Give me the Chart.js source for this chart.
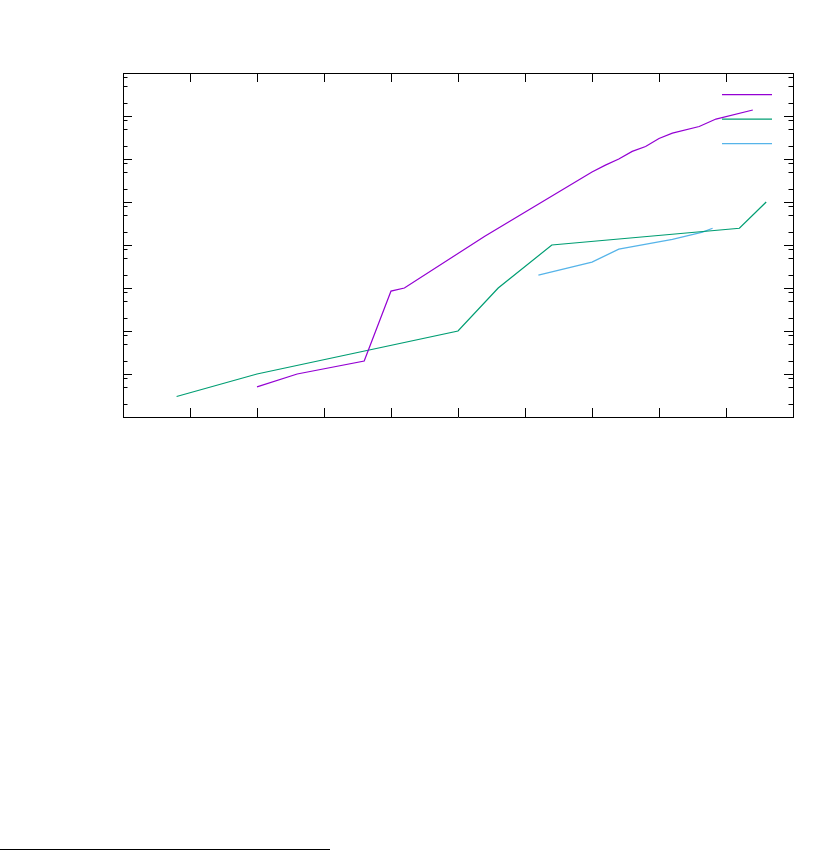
<!DOCTYPE html>
<html>
<head>
<meta charset="utf-8">
<script src="https://cdn.jsdelivr.net/npm/chart.js@4"></script>
<style>
  body { margin: 0; background: #fff; }
  #wrap { position: relative; width: 824px; height: 851px; }
  #rule { position: absolute; left: 0; top: 849px; width: 330px; height: 1px; background: #000; }
</style>
</head>
<body>
<div id="wrap">
  <canvas id="chart" width="824" height="851"></canvas>
  <div id="rule"></div>
</div>
<script>
// Series (x in axis units 0..10, y on a log scale)
const purpleX = [2.0, 2.6, 3.6, 4.0, 4.2, 5.4, 7.0, 7.2, 7.4, 7.6, 7.8, 8.0, 8.2, 8.6, 8.85, 9.4];
const purpleY = [5, 10, 20, 850, 1000, 16000, 5e5, 7.2e5, 1e6, 1.5e6, 1.95e6, 3e6, 4e6, 5.7e6, 8.5e6, 1.38e7];

const greenX = [0.8, 2.0, 5.0, 5.6, 6.4, 9.2, 9.6];
const greenY = [3, 10, 100, 1000, 1e4, 2.45e4, 1e5];

const blueX = [6.2, 7.0, 7.4, 8.2, 8.65, 8.8];
const blueY = [2000, 4000, 8000, 13500, 20000, 24500];

const xTicks = [1, 2, 3, 4, 5, 6, 7, 8, 9];
const decades = [0, 1, 2, 3, 4, 5, 6, 7];
const minorSteps = [2, 5, 8];

const toPoints = (xs, ys) => xs.map((x, i) => ({ x: x, y: ys[i] }));

const logTicks = (scale) => {
  const t = [];
  decades.forEach(d => {
    t.push({ value: Math.pow(10, d), major: true });
    minorSteps.forEach(m => t.push({ value: m * Math.pow(10, d), major: false }));
  });
  t.push({ value: 1e8, major: true });
  scale.ticks = t;
};

const linTicks = (scale) => {
  scale.ticks = xTicks.map(v => ({ value: v, major: true }));
};

// gnuplot style inward tick marks, mirrored on all four sides
const innerTicks = {
  id: 'innerTicks',
  afterDraw(chart) {
    const ctx = chart.ctx;
    const a = chart.chartArea;
    ctx.save();
    ctx.strokeStyle = '#000';
    ctx.lineWidth = 1;
    ctx.beginPath();
    ['x', 'x2'].forEach(id => {
      const s = chart.scales[id];
      s.ticks.forEach(t => {
        const px = Math.round(s.getPixelForValue(t.value)) + 0.5;
        if (id === 'x') { ctx.moveTo(px, a.bottom); ctx.lineTo(px, a.bottom - 9); }
        else { ctx.moveTo(px, a.top); ctx.lineTo(px, a.top + 9); }
      });
    });
    ['y', 'y2'].forEach(id => {
      const s = chart.scales[id];
      s.ticks.forEach(t => {
        if (t.value <= 1 || t.value >= 1e8) return;
        const py = Math.round(s.getPixelForValue(t.value)) + 0.5;
        const len = t.major ? 9 : 4.5;
        if (id === 'y') { ctx.moveTo(a.left, py); ctx.lineTo(a.left + len, py); }
        else { ctx.moveTo(a.right, py); ctx.lineTo(a.right - len, py); }
      });
    });
    ctx.stroke();
    ctx.restore();
  }
};

// key samples in the top right corner (titles are blank in the source)
const keyLines = {
  id: 'keyLines',
  afterDraw(chart) {
    const ctx = chart.ctx;
    const a = chart.chartArea;
    ctx.save();
    chart.data.datasets.forEach((ds, i) => {
      const y = a.top + 21.5 + i * 24.5;
      ctx.strokeStyle = ds.borderColor;
      ctx.lineWidth = ds.borderWidth;
      ctx.beginPath();
      ctx.moveTo(a.right - 71, y);
      ctx.lineTo(a.right - 21, y);
      ctx.stroke();
    });
    ctx.restore();
  }
};

const axisBase = {
  ticks: { display: false },
  grid: { display: true, drawOnChartArea: false, drawTicks: false },
  border: { display: true, color: '#000', width: 1 }
};

new Chart(document.getElementById('chart'), {
  type: 'line',
  data: {
    datasets: [
      { label: '', data: toPoints(purpleX, purpleY), borderColor: '#9400d3', borderWidth: 1.25, pointRadius: 0, tension: 0 },
      { label: '', data: toPoints(greenX, greenY), borderColor: '#009e73', borderWidth: 1.25, pointRadius: 0, tension: 0 },
      { label: '', data: toPoints(blueX, blueY), borderColor: '#56b4e9', borderWidth: 1.25, pointRadius: 0, tension: 0 }
    ]
  },
  options: {
    responsive: false,
    animation: false,
    layout: { padding: { left: 123, right: 31, top: 73, bottom: 434 } },
    plugins: { legend: { display: false }, tooltip: { enabled: false } },
    scales: {
      x: { ...axisBase, type: 'linear', position: 'bottom', min: 0, max: 10, afterBuildTicks: linTicks },
      x2: { ...axisBase, type: 'linear', position: 'top', min: 0, max: 10, afterBuildTicks: linTicks },
      y: { ...axisBase, type: 'logarithmic', position: 'left', min: 1, max: 1e8, afterBuildTicks: logTicks },
      y2: { ...axisBase, type: 'logarithmic', position: 'right', min: 1, max: 1e8, afterBuildTicks: logTicks }
    }
  },
  plugins: [innerTicks, keyLines]
});
</script>
</body>
</html>
